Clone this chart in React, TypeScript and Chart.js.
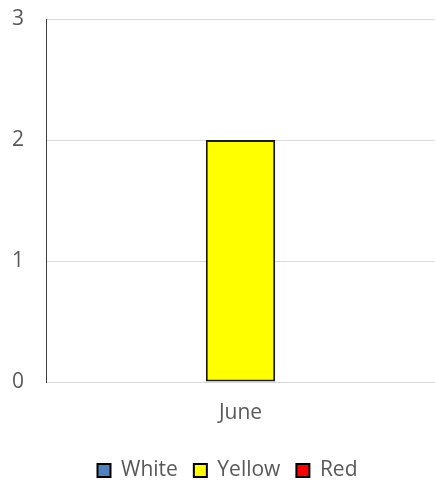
import React, { useEffect, useRef } from "react";
import { Chart, registerables } from "chart.js";

Chart.register(...registerables);

const categories = ["June"];
const seriesNames = ["White", "Yellow", "Red"];
const whiteValues = [0];
const yellowValues = [2];
const redValues = [0];
const seriesColors = ["#4f81bd", "#ffff00", "#ff0000"];
const yTicks = [0, 1, 2, 3];

export default function App() {
  const ref = useRef<HTMLCanvasElement | null>(null);
  useEffect(() => {
    document.body.style.margin = "0";
    if (!ref.current) return;
    const font = { family: "'Open Sans', sans-serif", size: 21 };
    const values = [whiteValues, yellowValues, redValues];
    const chart = new Chart(ref.current, {
      type: "bar",
      data: {
        labels: categories,
        datasets: seriesNames.map((name, i) => ({
          label: name,
          data: values[i],
          backgroundColor: seriesColors[i],
          borderColor: "#1a1a1a",
          borderWidth: (ctx: any) => (ctx.raw === 0 ? 0 : 2),
          borderSkipped: false,
          barPercentage: 1,
          categoryPercentage: 0.535,
        })),
      },
      options: {
        animation: false,
        responsive: false,
        devicePixelRatio: 1,
        layout: { padding: { left: 12, right: -8, top: 19, bottom: -9 } },
        plugins: {
          tooltip: { enabled: false },
          legend: {
            position: "bottom",
            labels: {
              font,
              color: "#595959",
              boxWidth: 13,
              boxHeight: 13,
              padding: 16,
              generateLabels: (c: any) =>
                c.data.datasets.map((d: any, i: number) => ({
                  text: d.label,
                  fillStyle: d.backgroundColor,
                  strokeStyle: "#000000",
                  lineWidth: 2,
                  fontColor: "#595959",
                  hidden: false,
                  datasetIndex: i,
                })),
            },
          },
        },
        scales: {
          x: {
            grid: { display: false, drawTicks: false },
            border: { color: "#d9d9d9", width: 1 },
            ticks: { font, color: "#595959", padding: 18 },
            afterFit: (axis: any) => {
              axis.height = 62;
              axis.paddingLeft = 0;
              axis.paddingRight = 0;
            },
          },
          y: {
            min: 0,
            max: 3,
            afterBuildTicks: (axis: any) => {
              axis.ticks = yTicks.map((v) => ({ value: v }));
            },
            afterFit: (axis: any) => {
              axis.width = 34;
            },
            grid: { color: "#d9d9d9", lineWidth: 1, drawTicks: false },
            border: { color: "#404040", width: 1 },
            ticks: { font, color: "#595959", padding: 0, crossAlign: "far" },
          },
        },
      },
    });
    return () => chart.destroy();
  }, []);
  return (
    <div style={{ width: 435, height: 482 }}>
      <canvas ref={ref} width={435} height={482} />
    </div>
  );
}
